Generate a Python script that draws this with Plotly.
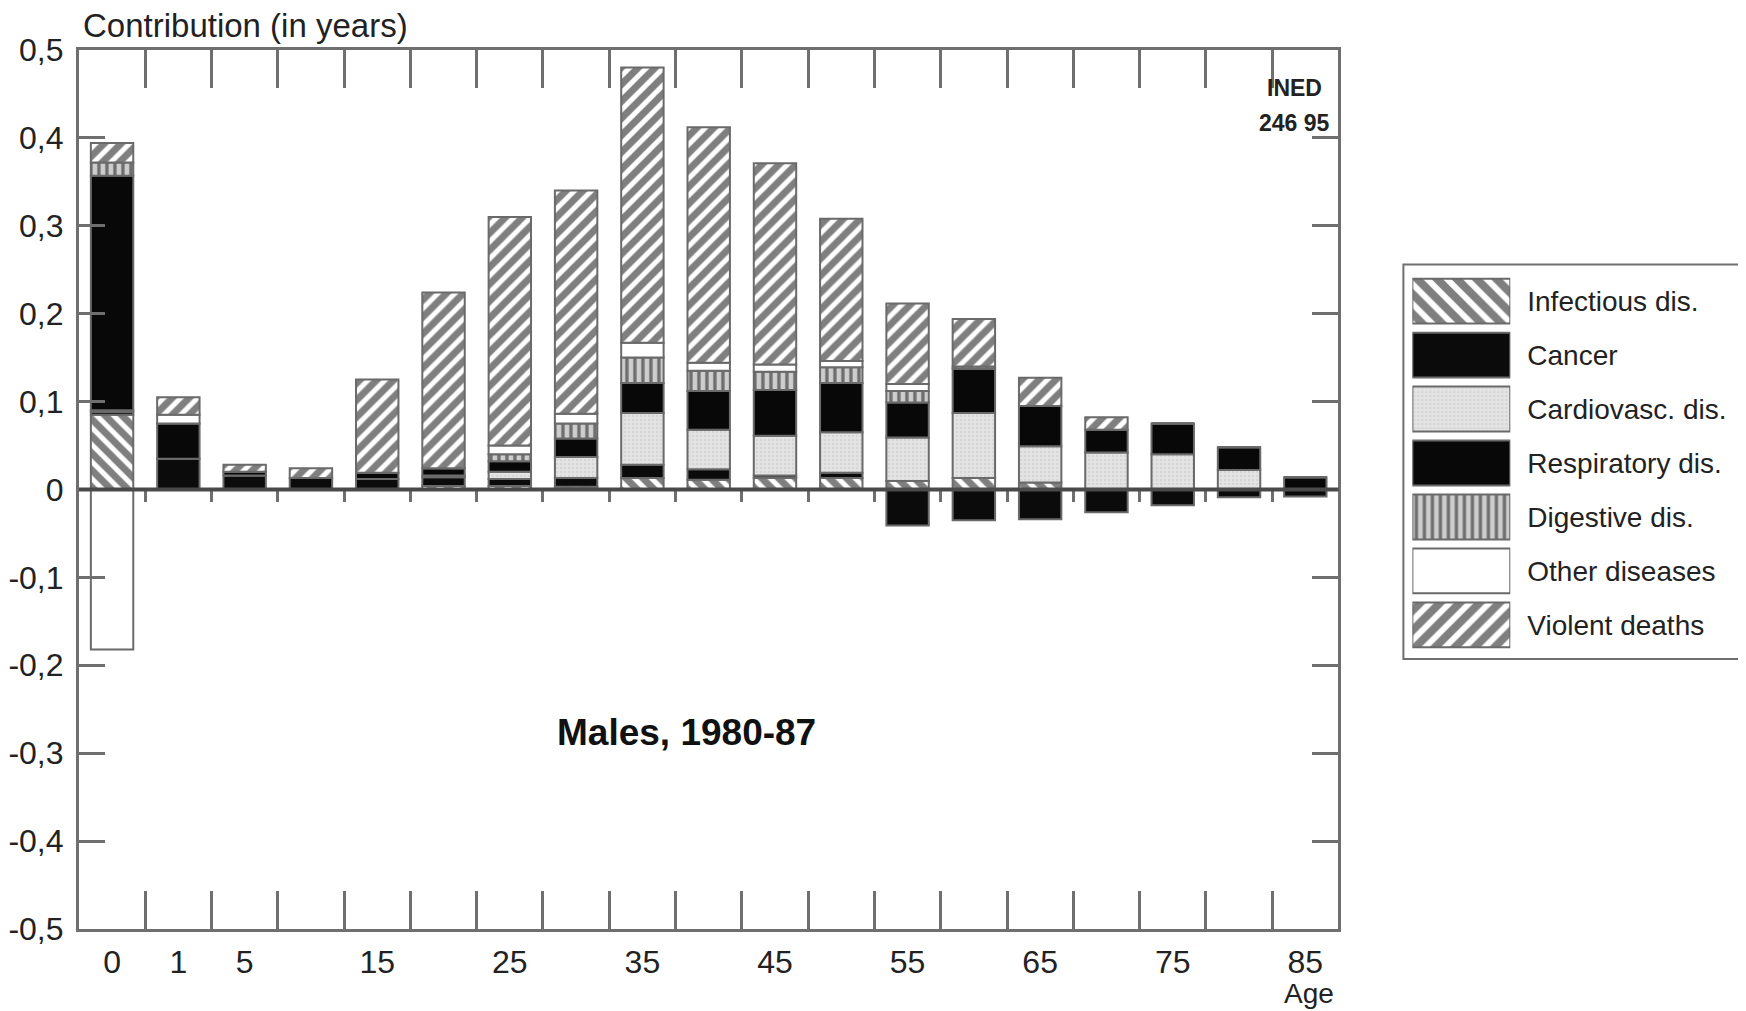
"""Contribution of causes of death to the change in life expectancy, males 1980-87."""

import plotly.graph_objects as go

# age groups (x categories) and the labels shown under the axis
ages = ["0", "1", "5", "10", "15", "20", "25", "30", "35", "40",
        "45", "50", "55", "60", "65", "70", "75", "80", "85"]
age_labels = ["0", "1", "5", "", "15", "", "25", "", "35", "",
              "45", "", "55", "", "65", "", "75", "", "85"]

# contribution in years by cause
infectious = [0.085, 0, 0, 0, 0, 0.004, 0.004, 0.003, 0.013, 0.011,
              0.013, 0.013, 0.0095, 0.013, 0.008, 0, 0, 0, 0]
cancer = [0.003, 0.035, 0.016, 0.013, 0.012, 0.010, 0.008, 0.010, 0.015, 0.012,
          0.003, 0.006, -0.041, -0.035, -0.034, -0.026, -0.018, -0.009, -0.008]
cardiovasc = [0.002, 0, 0, 0, 0, 0.002, 0.008, 0.024, 0.059, 0.045,
              0.045, 0.046, 0.0495, 0.074, 0.041, 0.042, 0.040, 0.022, 0]
respiratory = [0.267, 0.040, 0.004, 0, 0.007, 0.008, 0.012, 0.021, 0.034, 0.044,
               0.052, 0.056, 0.040, 0.050, 0.046, 0.026, 0.035, 0.026, 0.014]
digestive = [0.015, 0, 0, 0, 0, 0, 0.008, 0.017, 0.029, 0.023,
             0.021, 0.018, 0.013, 0.003, 0, 0, 0, 0, 0]
other = [-0.182, 0.010, 0, 0, 0, 0, 0.010, 0.011, 0.017, 0.009,
         0.008, 0.007, 0.008, 0, 0, 0, 0, 0, 0]
violent = [0.022, 0.020, 0.008, 0.011, 0.106, 0.200, 0.260, 0.254, 0.313, 0.268,
           0.229, 0.162, 0.0915, 0.054, 0.032, 0.014, 0, 0, 0]

cause_names = ["Infectious dis.", "Cancer", "Cardiovasc. dis.", "Respiratory dis.",
               "Digestive dis.", "Other diseases", "Violent deaths"]
cause_values = [infectious, cancer, cardiovasc, respiratory, digestive, other, violent]

y_ticks = [-0.5, -0.4, -0.3, -0.2, -0.1, 0, 0.1, 0.2, 0.3, 0.4, 0.5]
y_labels = ["-0,5", "-0,4", "-0,3", "-0,2", "-0,1", "0", "0,1", "0,2", "0,3", "0,4", "0,5"]

FONT = "Liberation Sans, Arial, sans-serif"
INK = "#222222"
FRAME = "#6f6f6f"
OUTLINE = "#6a6a6a"
W, H, PAD = 1746, 1011, 8  # page body margin shifts the plot by PAD px


def px(x):
    return (x - PAD) / W


def py(y):
    # target pixel row -> paper y, tuned against the rendered page
    y = (y - 17.3) / 0.966
    return 1 - (y - PAD) / H


def styles(size):
    return [
        dict(color="white", pattern=dict(shape="\\", fgcolor="#000000", bgcolor="white", size=size, solidity=0.58)),
        dict(color="#0b0b0b"),
        dict(color="#dedede", pattern=dict(shape=".", fgcolor="#c6c6c6", bgcolor="#e4e4e4", size=4, solidity=0.3)),
        dict(color="#080808"),
        dict(color="white", pattern=dict(shape="|", fgcolor="#0f0f0f", bgcolor="#cdcdcd", size=8, solidity=0.42)),
        dict(color="white"),
        dict(color="white", pattern=dict(shape="/", fgcolor="#000000", bgcolor="white", size=size, solidity=0.58)),
    ]


x_range = [-0.5, 18.5]
boundaries = [i + 0.5 for i in range(len(ages) - 1)]
y_dom = [py(929.5), py(49)]

figure = go.Figure()

for name, values, style in zip(cause_names, cause_values, styles(12)):
    figure.add_trace(go.Bar(
        x=ages, y=values, name=name, width=0.64, showlegend=False,
        marker=dict(line=dict(color=OUTLINE, width=2), **style),
    ))

# hand-made legend: one swatch bar per cause in a small inset axis
for name, style in zip(cause_names, styles(14)):
    figure.add_trace(go.Bar(
        x=[1], y=[name], orientation="h", width=0.83, showlegend=False,
        xaxis="x2", yaxis="y2", hoverinfo="skip",
        marker=dict(line=dict(color=OUTLINE, width=2), **style),
    ))

# empty traces so the overlay tick axes get drawn
for axis in ["x3", "x4"]:
    figure.add_trace(go.Scatter(x=[], y=[], xaxis=axis, yaxis="y", showlegend=False, hoverinfo="skip"))

figure.update_layout(
    width=W, height=H,
    margin=dict(l=0, r=0, t=0, b=0),
    paper_bgcolor="white", plot_bgcolor="white",
    barmode="relative",
    font=dict(family=FONT, color=INK, size=28),
    xaxis=dict(
        domain=[px(77), px(1338)], type="category", range=x_range,
        tickvals=ages, ticktext=age_labels, ticks="",
        tickfont=dict(size=32, color=INK), ticklabelstandoff=3,
        showline=True, linecolor=FRAME, linewidth=3, mirror=True,
        showgrid=False, zeroline=False,
    ),
    yaxis=dict(
        domain=y_dom, range=[-0.5, 0.5],
        tickvals=y_ticks, ticktext=y_labels,
        ticks="inside", ticklen=26, tickwidth=3, tickcolor=FRAME,
        tickfont=dict(size=32, color=INK), ticklabelstandoff=6,
        showline=True, linecolor=FRAME, linewidth=3, mirror="ticks",
        showgrid=False, zeroline=False,
    ),
    xaxis3=dict(
        overlaying="x", anchor="y", range=x_range,
        tickvals=boundaries, ticks="inside", ticklen=38, tickwidth=3, tickcolor=FRAME,
        mirror="ticks", showline=False, showticklabels=False,
        showgrid=False, zeroline=False,
    ),
    xaxis4=dict(
        overlaying="x", anchor="free", position=(y_dom[0] + y_dom[1]) / 2, range=x_range,
        tickvals=boundaries, ticks="outside", ticklen=12, tickwidth=3, tickcolor=FRAME,
        showline=False, showticklabels=False, showgrid=False, zeroline=False,
    ),
    xaxis2=dict(domain=[px(1412), px(1510)], range=[0, 1], visible=False),
    yaxis2=dict(
        domain=[py(652), py(273.5)], anchor="x2",
        type="category", categoryarray=cause_names, autorange="reversed",
        side="right", ticks="", ticklabelstandoff=16,
        tickfont=dict(size=28, color=INK),
        showline=False, showgrid=False, zeroline=False,
    ),
)

figure.add_shape(type="line", xref="x domain", yref="y", x0=0, x1=1, y0=0, y1=0,
                 line=dict(color="#4a4a4a", width=4), layer="above")
figure.add_shape(type="rect", xref="paper", yref="paper",
                 x0=px(1403), x1=px(1743), y0=py(659), y1=py(264),
                 line=dict(color=FRAME, width=2), layer="below")

figure.add_annotation(text="Contribution (in years)", xref="paper", yref="paper",
                      x=px(79), y=py(25), xanchor="left", yanchor="middle",
                      showarrow=False, font=dict(size=33, color=INK))
figure.add_annotation(text="<b>INED</b>", xref="paper", yref="paper",
                      x=px(1324), y=py(87), xanchor="right", yanchor="middle",
                      showarrow=False, font=dict(size=23, color=INK))
figure.add_annotation(text="<b>246 95</b>", xref="paper", yref="paper",
                      x=px(1332), y=py(122), xanchor="right", yanchor="middle",
                      showarrow=False, font=dict(size=23, color=INK))
figure.add_annotation(text="<b>Males, 1980-87</b>", xref="paper", yref="paper",
                      x=px(685), y=py(733), xanchor="center", yanchor="middle",
                      showarrow=False, font=dict(size=37, color="#111111"))
figure.add_annotation(text="Age", xref="paper", yref="paper",
                      x=px(1308), y=py(994), xanchor="center", yanchor="middle",
                      showarrow=False, font=dict(size=28, color=INK))

figure.write_html("out.html")
